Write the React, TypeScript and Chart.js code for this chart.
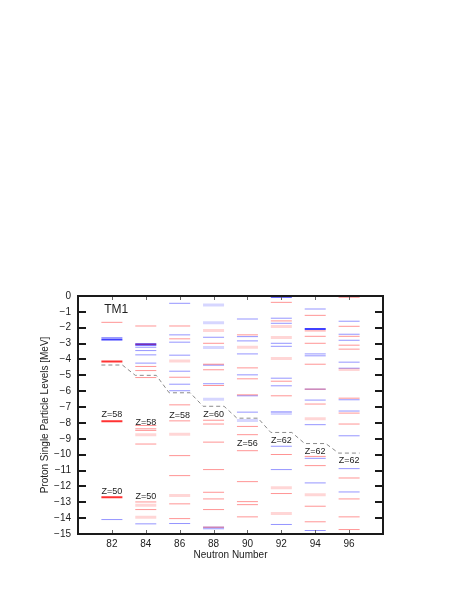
import React, { useEffect, useRef } from "react";
import { Chart, registerables } from "chart.js";

Chart.register(...registerables);

// ---------- data ----------
const neutronNumbers = [82, 84, 86, 88, 90, 92, 94, 96];
const xTickValues = [82, 84, 86, 88, 90, 92, 94, 96];
const yTickValues = [0, -1, -2, -3, -4, -5, -6, -7, -8, -9, -10, -11, -12, -13, -14, -15];

const deepRedLevels: number[][] = [
  [-4.13, -7.9, -12.68],
  [],
  [],
  [],
  [],
  [],
  [],
  [],
];
const deepBlueLevels: number[][] = [
  [-2.74],
  [-3.04],
  [],
  [],
  [],
  [-0.05],
  [-2.08],
  [],
];
const redLevels: number[][] = [
  [-1.66],
  [-1.89, -3.04, -4.44, -4.7, -5.14, -8.16, -8.37, -8.47, -9.33, -12.98, -13.46],
  [-1.89, -2.7, -5.12, -6.86, -7.87, -10.06, -11.32, -13.1, -14.03],
  [-2.98, -4.3, -4.65, -5.64, -7.83, -8.07, -9.21, -10.94, -12.37, -12.79, -13.46, -14.57],
  [-2.45, -4.53, -5.22, -6.23, -8.22, -8.74, -9.75, -11.7, -12.96, -13.15, -13.92],
  [-0.4, -1.57, -5.37, -6.29, -9.99, -12.45],
  [-1.22, -2.2, -2.54, -2.98, -4.3, -5.87, -6.81, -10.11, -10.69, -13.25, -14.23],
  [-0.08, -1.91, -2.54, -3.1, -3.35, -6.44, -7.38, -8.07, -11.47, -12.79, -13.92, -14.72],
];
const blueLevels: number[][] = [
  [-2.62, -14.09],
  [-3.12, -3.23, -3.44, -3.71, -4.23, -14.36],
  [-0.46, -2.45, -2.91, -3.73, -4.74, -5.56, -5.97, -14.34],
  [-2.6, -4.36, -5.53, -14.57, -14.67],
  [-1.45, -2.56, -2.83, -3.65, -4.97, -6.29, -7.32],
  [-1.4, -1.72, -2.98, -3.17, -5.18, -5.66, -7.3, -9.47, -10.94, -14.4],
  [-0.82, -3.65, -3.77, -5.87, -6.56, -8.11, -10.23, -11.78, -14.78],
  [-1.59, -2.41, -2.79, -4.17, -4.55, -6.54, -7.25, -8.81, -10.88, -12.35],
];
const paleRedLevels: number[][] = [
  [],
  [-8.74, -13.19, -13.94],
  [-4.09, -8.72, -12.57],
  [-2.18],
  [-3.23],
  [-1.93, -2.62, -3.94, -12.09, -13.71],
  [-7.74, -12.52],
  [-4.63],
];
const paleBlueLevels: number[][] = [
  [],
  [],
  [],
  [-0.57, -1.68, -3.25, -6.5],
  [-7.85],
  [-7.4],
  [],
  [],
];
const fermiLevels = [-4.35, -5.0, -6.1, -6.95, -7.7, -8.6, -9.3, -9.9];
const shellLabels: string[][] = [
  ["Z=58", "Z=50"],
  ["Z=58", "Z=50"],
  ["Z=58"],
  ["Z=60"],
  ["Z=56"],
  ["Z=62"],
  ["Z=62"],
  ["Z=62"],
];
const shellLabelEnergies: number[][] = [
  [-7.48, -12.31],
  [-7.95, -12.66],
  [-7.53],
  [-7.44],
  [-9.27],
  [-9.1],
  [-9.83],
  [-10.36],
];
const modelName = "TM1";
const modelLabelN = 82.25;
const modelLabelE = -0.85;

// ---------- helpers ----------
const HALF = 0.62;
const FONT = '"Liberation Sans", Arial, Helvetica, sans-serif';

function levelSegments(levels: number[][]) {
  const pts: { x: number; y: number | null }[] = [];
  levels.forEach((list, i) => {
    const n = neutronNumbers[i];
    list.forEach((e) => {
      pts.push({ x: n - HALF, y: e });
      pts.push({ x: n + HALF, y: e });
      pts.push({ x: n, y: null });
    });
  });
  return pts;
}

function fermiPath() {
  const pts: { x: number; y: number }[] = [];
  fermiLevels.forEach((e, i) => {
    const n = neutronNumbers[i];
    pts.push({ x: n - HALF, y: e });
    pts.push({ x: n + HALF, y: e });
  });
  return pts;
}

const overlayPlugin = {
  id: "overlay",
  afterDraw(chart: any) {
    const { ctx, chartArea: a, scales } = chart;
    const xs = scales.x;
    const ys = scales.y;
    ctx.save();
    ctx.fillStyle = "#222";
    ctx.textAlign = "center";
    ctx.textBaseline = "middle";
    ctx.font = `9px ${FONT}`;
    shellLabels.forEach((labels, i) => {
      labels.forEach((t, j) => {
        ctx.fillText(
          t,
          xs.getPixelForValue(neutronNumbers[i]),
          ys.getPixelForValue(shellLabelEnergies[i][j])
        );
      });
    });
    ctx.font = `12px ${FONT}`;
    ctx.fillText(modelName, xs.getPixelForValue(modelLabelN), ys.getPixelForValue(modelLabelE));

    ctx.strokeStyle = "#1a1a1a";
    ctx.lineWidth = 2;
    ctx.strokeRect(a.left, a.top, a.right - a.left, a.bottom - a.top);
    ctx.beginPath();
    yTickValues.forEach((v) => {
      const y = Math.round(ys.getPixelForValue(v));
      ctx.moveTo(a.left, y);
      ctx.lineTo(a.left + 8, y);
      ctx.moveTo(a.right, y);
      ctx.lineTo(a.right - 8, y);
    });
    ctx.stroke();
    ctx.lineWidth = 1;
    ctx.strokeStyle = "#666";
    ctx.beginPath();
    xTickValues.forEach((v) => {
      const x = Math.round(xs.getPixelForValue(v)) + 0.5;
      ctx.moveTo(x, a.top + 1);
      ctx.lineTo(x, a.top + 4);
      ctx.moveTo(x, a.bottom - 1);
      ctx.lineTo(x, a.bottom - 4);
    });
    ctx.stroke();
    ctx.restore();
  },
};

export default function App() {
  const ref = useRef<HTMLCanvasElement | null>(null);

  useEffect(() => {
    if (!ref.current) return;
    const line = (data: any[], color: string, width: number) => ({
      data,
      borderColor: color,
      borderWidth: width,
      pointRadius: 0,
      tension: 0,
      spanGaps: false,
      fill: false,
      borderCapStyle: "butt",
    });
    const chart = new Chart(ref.current, {
      type: "line",
      data: {
        datasets: [
          line(levelSegments(paleRedLevels), "rgba(255,0,0,0.16)", 3),
          line(levelSegments(paleBlueLevels), "rgba(0,0,255,0.16)", 3),
          line(levelSegments(redLevels), "rgba(255,0,0,0.42)", 1),
          line(levelSegments(blueLevels), "rgba(0,0,255,0.42)", 1),
          line(levelSegments(deepRedLevels), "rgba(255,0,0,0.8)", 2),
          line(levelSegments(deepBlueLevels), "rgba(0,0,255,0.75)", 2),
          {
            ...line(fermiPath(), "#8a8a8a", 1),
            borderDash: [4, 3],
          },
        ] as any,
      },
      options: {
        responsive: false,
        animation: false,
        devicePixelRatio: 1,
        parsing: false as any,
        normalized: true,
        layout: { padding: { top: 296, right: 80, bottom: 0, left: 0 } },
        plugins: {
          legend: { display: false },
          tooltip: { enabled: false },
        },
        scales: {
          x: {
            type: "linear",
            min: 80,
            max: 98,
            position: "bottom",
            grid: { display: false, drawTicks: false },
            border: { display: false },
            afterBuildTicks: (s: any) => {
              s.ticks = xTickValues.map((v) => ({ value: v }));
            },
            afterFit: (s: any) => {
              s.height = 65;
            },
            ticks: {
              padding: 4,
              color: "#222",
              font: { family: FONT, size: 10 },
              maxRotation: 0,
              autoSkip: false,
              callback: (v: any) => String(v),
            },
            title: {
              display: true,
              text: "Neutron Number",
              color: "#222",
              font: { family: FONT, size: 10 },
              padding: { top: 0, bottom: 38 },
            },
          },
          y: {
            type: "linear",
            min: -15,
            max: 0,
            position: "left",
            grid: { display: false, drawTicks: false },
            border: { display: false },
            afterBuildTicks: (s: any) => {
              s.ticks = yTickValues.map((v) => ({ value: v }));
            },
            afterFit: (s: any) => {
              s.width = 78;
            },
            ticks: {
              padding: 7,
              color: "#222",
              font: { family: FONT, size: 10 },
              autoSkip: false,
              callback: (v: any) => (v < 0 ? "\u2212" + Math.abs(v) : String(v)),
            },
            title: {
              display: true,
              text: "Proton Single Particle Levels [MeV]",
              color: "#222",
              font: { family: FONT, size: 10 },
              padding: { top: 39, bottom: 0 },
            },
          },
        },
      } as any,
      plugins: [overlayPlugin],
    });
    return () => chart.destroy();
  }, []);

  return (
    <div style={{ position: "fixed", left: 0, top: 0, width: 463, height: 599, background: "#fff" }}>
      <canvas ref={ref} width={463} height={599} style={{ width: 463, height: 599, display: "block" }} />
    </div>
  );
}
